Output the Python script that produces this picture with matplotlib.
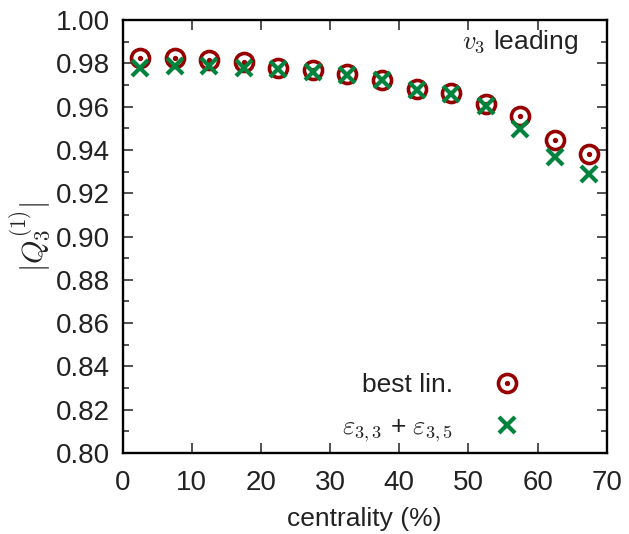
import matplotlib
matplotlib.use("Agg")
import matplotlib.pyplot as plt
from matplotlib.legend_handler import HandlerTuple
from matplotlib.ticker import MultipleLocator, FormatStrFormatter

plt.rcParams['font.family'] = ['Liberation Sans', 'DejaVu Sans']
plt.rcParams['mathtext.fontset'] = 'cm'

# centrality bins (%)
centrality = [2.5, 7.5, 12.5, 17.5, 22.5, 27.5, 32.5, 37.5, 42.5, 47.5, 52.5, 57.5, 62.5, 67.5]
best_lin = [0.9823, 0.9823, 0.9815, 0.9805, 0.9777, 0.9769, 0.9750, 0.9725,
            0.9680, 0.9661, 0.9610, 0.9557, 0.9446, 0.9383]
eps_sum = [0.9777, 0.9788, 0.9788, 0.9780, 0.9774, 0.9761, 0.9747, 0.9722,
           0.9677, 0.9658, 0.9604, 0.9496, 0.9368, 0.9289]

red = '#960000'
green = '#00843d'
txt = '#222222'

fig = plt.figure(figsize=(6.29, 5.34), dpi=100)
ax = fig.add_axes([0.195, 0.1517, 0.7696, 0.8108])

circ, = ax.plot(centrality, best_lin, 'o', ms=13, mfc='none', mec=red, mew=2.6, ls='none')
dot, = ax.plot(centrality, best_lin, 'o', ms=2.8, color=red, ls='none')
cross, = ax.plot(centrality, eps_sum, 'x', ms=12, mec=green, mew=3, ls='none')

ax.set_xlim(0, 70)
ax.set_ylim(0.80, 1.00)
ax.xaxis.set_major_locator(MultipleLocator(10))
ax.yaxis.set_major_locator(MultipleLocator(0.02))
ax.yaxis.set_minor_locator(MultipleLocator(0.01))
ax.yaxis.set_major_formatter(FormatStrFormatter('%.2f'))
ax.tick_params(which='both', direction='in', top=True, right=True, labelsize=20,
               width=1.1, color=txt, labelcolor=txt)
ax.tick_params(which='major', length=7)
ax.tick_params(which='minor', length=4)
ax.tick_params(axis='x', pad=12)
ax.tick_params(axis='y', pad=9)
for s in ax.spines.values():
    s.set_linewidth(1.7)

ax.set_xlabel('centrality (%)', fontsize=19, labelpad=8, color=txt)
ax.set_ylabel(r'$|Q_3^{(1)}|$', fontsize=21.5, labelpad=2, color=txt)

ax.text(0.942, 0.95, r'$v_3$ leading', transform=ax.transAxes, ha='right', va='center',
        fontsize=19, color=txt)

ax.legend([(circ, dot), cross], ['best lin.', r'$\varepsilon_{3,3}$ + $\varepsilon_{3,5}$'],
          handler_map={tuple: HandlerTuple(ndivide=1)},
          markerfirst=False, frameon=False, loc='lower right',
          bbox_to_anchor=(0.827, 0.02), borderpad=0, borderaxespad=0,
          fontsize=19, handlelength=1.2, handletextpad=1.44, labelspacing=0.68,
          labelcolor=txt)

fig.savefig('out.png', dpi=100)
